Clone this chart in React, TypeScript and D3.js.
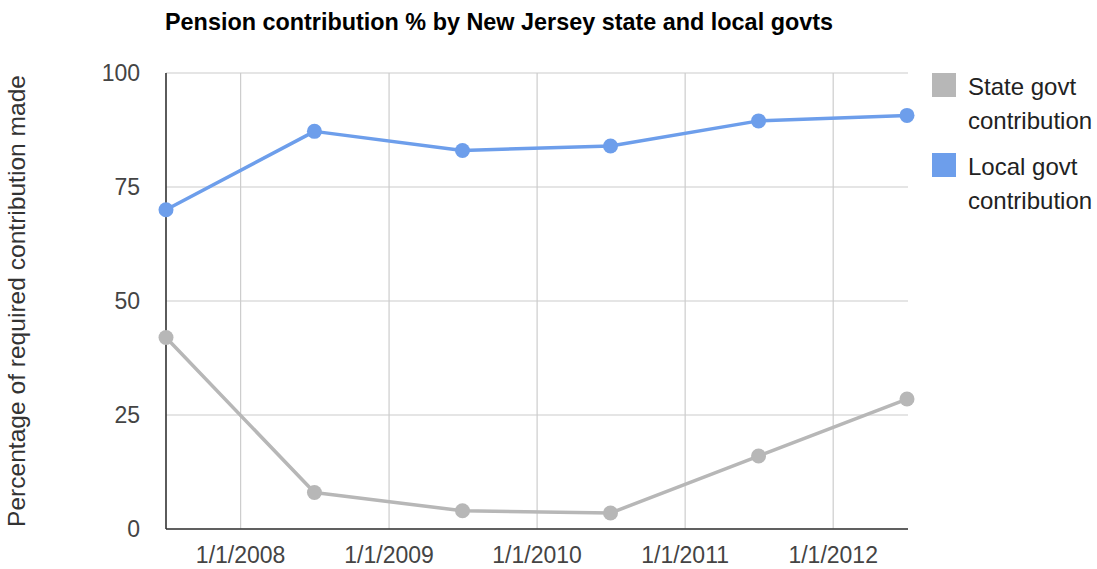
import React from "react";
import * as d3 from "d3";

const title = "Pension contribution % by New Jersey state and local govts";
const yTitle = "Percentage of required contribution made";
const dates = ["2007-07-01", "2008-07-01", "2009-07-01", "2010-07-01", "2011-07-01", "2012-07-01"];
const stateValues = [42, 8, 4, 3.5, 16, 28.5];
const localValues = [70, 87.2, 83, 84, 89.5, 90.7];
const seriesNames = [["State govt", "contribution"], ["Local govt", "contribution"]];
const yTicks = [0, 25, 50, 75, 100];
const xTickDates = ["2008-01-01", "2009-01-01", "2010-01-01", "2011-01-01", "2012-01-01"];
const xTickLabels = ["1/1/2008", "1/1/2009", "1/1/2010", "1/1/2011", "1/1/2012"];

const W = 1097, H = 569;
const left = 166, right = 907, top = 73, bottom = 529;
const colors = ["#b7b7b7", "#6d9eeb"];
const FONT = "Arial, 'Liberation Sans', sans-serif";

export default function App() {
  const parse = d3.utcParse("%Y-%m-%d");
  const xs = dates.map((d) => parse(d) as Date);
  const x = d3.scaleUtc().domain(d3.extent(xs) as [Date, Date]).range([left, right]);
  const y = d3.scaleLinear().domain([0, 100]).range([bottom, top]);
  const series = [stateValues, localValues];
  const line = d3
    .line<number>()
    .x((_, i) => x(xs[i]))
    .y((v) => y(v));

  return (
    <svg width={W} height={H} style={{ position: "absolute", left: 0, top: 0, background: "#fff" }} fontFamily={FONT}>
      <rect x={0} y={0} width={W} height={H} fill="#fff" />
      <text x={165} y={30} fontSize={24} fontWeight="bold" fill="#000" textLength={668} lengthAdjust="spacingAndGlyphs">
        {title}
      </text>
      {/* grid */}
      {yTicks.map((t) => (
        <line key={"gy" + t} x1={left} x2={right + 1} y1={y(t)} y2={y(t)} stroke="#cccccc" strokeWidth={1.2} />
      ))}
      {xTickDates.map((d) => {
        const xx = x(parse(d) as Date);
        return <line key={"gx" + d} x1={xx} x2={xx} y1={top} y2={bottom} stroke="#cccccc" strokeWidth={1.2} />;
      })}
      {/* axes */}
      <line x1={left} x2={left} y1={top} y2={bottom} stroke="#333" strokeWidth={1.6} />
      <line x1={left} x2={right + 1} y1={bottom} y2={bottom} stroke="#333" strokeWidth={1.6} />
      {/* y tick labels */}
      {yTicks.map((t) => (
        <text key={"yl" + t} x={140} y={y(t) + 8} fontSize={23} fill="#444" textAnchor="end">
          {t}
        </text>
      ))}
      {/* x tick labels */}
      {xTickDates.map((d, i) => (
        <text key={"xl" + d} x={x(parse(d) as Date)} y={563} fontSize={23} fill="#444" textAnchor="middle">
          {xTickLabels[i]}
        </text>
      ))}
      {/* y title */}
      <text
        transform={`translate(25,301) rotate(-90)`}
        fontSize={24}
        fill="#333"
        textAnchor="middle"
        textLength={452}
        lengthAdjust="spacingAndGlyphs"
      >
        {yTitle}
      </text>
      {/* series */}
      {series.map((vals, si) => (
        <g key={"s" + si}>
          <path d={line(vals) || ""} fill="none" stroke={colors[si]} strokeWidth={3.5} strokeLinejoin="round" />
          {vals.map((v, i) => (
            <circle key={i} cx={x(xs[i])} cy={y(v)} r={7.5} fill={colors[si]} />
          ))}
        </g>
      ))}
      {/* legend */}
      {seriesNames.map((lines, si) => (
        <g key={"lg" + si} transform={`translate(932,${73 + si * 80})`}>
          <rect x={0} y={0} width={24} height={24} fill={colors[si]} />
          {lines.map((l, li) => (
            <text key={li} x={36} y={22 + li * 34} fontSize={24} fill="#222">
              {l}
            </text>
          ))}
        </g>
      ))}
    </svg>
  );
}
